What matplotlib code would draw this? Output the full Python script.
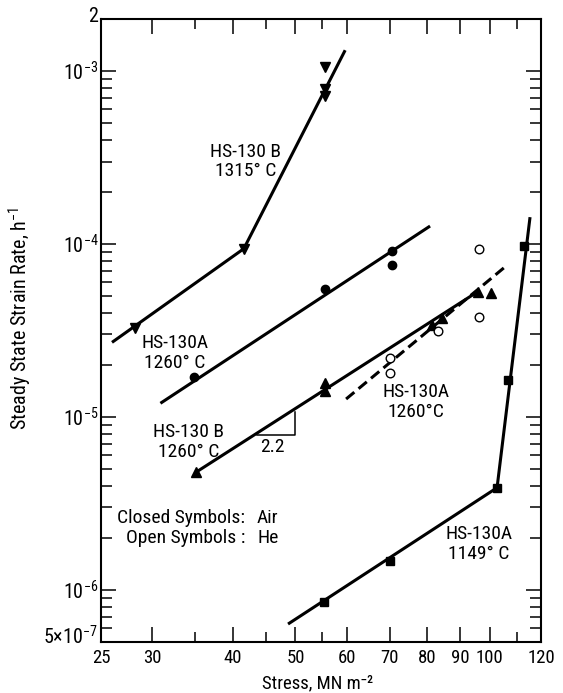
import matplotlib
matplotlib.use('Agg')
import matplotlib.pyplot as plt
from matplotlib import font_manager
from matplotlib.transforms import ScaledTranslation
from matplotlib.ticker import FixedLocator, FixedFormatter, NullFormatter

# ---------------- data ----------------
# HS-130 B, 1315 C (closed inverted triangles)
b1315_stress = [28.2, 41.6, 55.6, 55.6, 55.6]
b1315_rate = [3.25e-5, 9.4e-5, 1.05e-3, 7.9e-4, 7.2e-4]
b1315_fit_stress = [26.0, 41.6, 59.7]
b1315_fit_rate = [2.7e-5, 9.4e-5, 1.32e-3]

# HS-130A, 1260 C, air (closed circles)
a1260_stress = [34.8, 55.6, 70.5, 70.5]
a1260_rate = [1.70e-5, 5.5e-5, 9.1e-5, 7.6e-5]
a1260_fit_stress = [30.9, 80.8]
a1260_fit_rate = [1.2e-5, 1.27e-4]

# HS-130 B, 1260 C (closed triangles)
b1260_stress = [35.1, 55.6, 55.6, 81.3, 84.3, 95.9, 100.4]
b1260_rate = [4.8e-6, 1.57e-5, 1.42e-5, 3.4e-5, 3.75e-5, 5.3e-5, 5.2e-5]
b1260_fit_stress = [35.1, 96.5]
b1260_fit_rate = [4.8e-6, 5.4e-5]

# HS-130A, 1260 C, helium (open circles, dashed fit)
a1260he_stress = [70.0, 70.0, 83.1, 96.2, 96.2]
a1260he_rate = [2.19e-5, 1.79e-5, 3.14e-5, 9.35e-5, 3.78e-5]
a1260he_fit_stress = [59.9, 105.9]
a1260he_fit_rate = [1.27e-5, 7.45e-5]

# HS-130A, 1149 C (closed squares)
a1149_stress = [55.4, 70.0, 102.6, 106.7, 112.9]
a1149_rate = [8.5e-7, 1.47e-6, 3.9e-6, 1.64e-5, 9.7e-5]
a1149_fit_stress = [48.7, 102.6, 115.4]
a1149_fit_rate = [6.35e-7, 3.9e-6, 1.43e-4]

# slope triangle (slope 2.2)
slope_tri_stress = [43.6, 49.9, 49.9]
slope_tri_rate = [7.86e-6, 7.86e-6, 1.07e-5]

# axis ticks
x_major = [25, 30, 40, 50, 60, 70, 80, 90, 100, 120]
x_major_labels = ['25', '30', '40', '50', '60', '70', '80', '90', '100', '120']
x_minor = [35, 45, 55, 110]
y_major = [5e-7, 1e-6, 1e-5, 1e-4, 1e-3, 2e-3]
y_major_labels = [r'$5{\times}10^{-7}$', r'$10^{-6}$', r'$10^{-5}$', r'$10^{-4}$', r'$10^{-3}$', '2']
y_minor = [k * 10.0 ** e for e in (-7, -6, -5, -4) for k in range(2, 10)
           if 5e-7 < k * 10.0 ** e < 2e-3]

# ---------------- font selection (narrow face if available) ----------------
ttf = font_manager.fontManager.ttflist
names = {f.name for f in ttf}
family, stretch, narrow = 'Liberation Sans', 'normal', False
for cand in ('Liberation Sans Narrow', 'Roboto Condensed', 'Open Sans Condensed',
             'Noto Sans Condensed', 'DejaVu Sans Condensed', 'Arial Narrow'):
    if cand in names:
        family, narrow = cand, True
        break
if not narrow:
    for fam in ('DejaVu Sans', 'Noto Sans', 'Open Sans', 'Roboto', 'Lato', 'Inter'):
        if any(f.name == fam and str(f.stretch) in ('condensed', 'semi-condensed', 'extra-condensed', '75', '87.5')
               and f.weight in ('normal', 400, 'regular') and f.style == 'normal' for f in ttf):
            family, stretch, narrow = fam, 'condensed', True
            break
if family not in names:
    family = 'DejaVu Sans'

plt.rcParams['font.family'] = [family, 'DejaVu Sans']
plt.rcParams['font.stretch'] = stretch
plt.rcParams['mathtext.default'] = 'regular'

scale = 1.0 if narrow else 0.84
fs = 14.0 * scale      # annotations
ytfs = 14.5 * scale    # y tick labels
xtfs = 13.5 * scale    # x tick labels
lfs = 13.5 * scale     # axis labels

# ---------------- figure ----------------
fig = plt.figure(figsize=(5.63, 6.93), dpi=100)
ax = fig.add_axes([101 / 563, 1 - 642 / 693, 440 / 563, 623 / 693])
ax.set_xscale('log')
ax.set_yscale('log')
ax.set_xlim(25, 120)
ax.set_ylim(5e-7, 2e-3)

lw = 2.2
k = 'black'
ax.plot(b1315_fit_stress, b1315_fit_rate, color=k, lw=lw, solid_capstyle='butt')
ax.plot(b1315_stress, b1315_rate, 'v', color=k, ms=6.5, ls='none')

ax.plot(a1260_fit_stress, a1260_fit_rate, color=k, lw=lw, solid_capstyle='butt')
ax.plot(a1260_stress, a1260_rate, 'o', color=k, ms=6.0, ls='none')

ax.plot(b1260_fit_stress, b1260_fit_rate, color=k, lw=lw, solid_capstyle='butt')
ax.plot(b1260_stress, b1260_rate, '^', color=k, ms=6.5, ls='none')

ax.plot(a1260he_fit_stress, a1260he_fit_rate, color=k, lw=lw, ls=(0, (3.5, 1.8)))
ax.plot(a1260he_stress, a1260he_rate, 'o', mfc='white', mec=k, mew=1.0, ms=6.2, ls='none')

ax.plot(a1149_fit_stress, a1149_fit_rate, color=k, lw=lw, solid_capstyle='butt')
ax.plot(a1149_stress, a1149_rate, 's', color=k, ms=6.0, ls='none')

ax.plot(slope_tri_stress, slope_tri_rate, color=k, lw=1.1)

# ---------------- annotations ----------------
ax.text(41.9, 3.0e-4, 'HS-130 B\n1315° C', ha='center', va='center', fontsize=fs, linespacing=1.1)
ax.text(32.5, 2.34e-5, 'HS-130A\n1260° C', ha='center', va='center', fontsize=fs, linespacing=1.1)
ax.text(34.2, 7.16e-6, 'HS-130 B\n1260° C', ha='center', va='center', fontsize=fs, linespacing=1.1)
ax.text(76.8, 1.22e-5, 'HS-130A\n1260°C', ha='center', va='center', fontsize=fs, linespacing=1.1)
ax.text(96.2, 1.84e-6, 'HS-130A\n1149° C', ha='center', va='center', fontsize=fs, linespacing=1.1)
ax.text(46.0, 6.7e-6, '2.2', ha='center', va='center', fontsize=fs)

ax.text(41.8, 2.6e-6, 'Closed Symbols:', ha='right', va='center', fontsize=fs)
ax.text(43.6, 2.6e-6, 'Air', ha='left', va='center', fontsize=fs)
ax.text(41.8, 2.0e-6, 'Open Symbols :', ha='right', va='center', fontsize=fs)
ax.text(43.6, 2.0e-6, 'He', ha='left', va='center', fontsize=fs)

# ---------------- axes styling ----------------
ax.xaxis.set_major_locator(FixedLocator(x_major))
ax.xaxis.set_major_formatter(FixedFormatter(x_major_labels))
ax.xaxis.set_minor_locator(FixedLocator(x_minor))
ax.xaxis.set_minor_formatter(NullFormatter())
ax.yaxis.set_major_locator(FixedLocator(y_major))
ax.yaxis.set_major_formatter(FixedFormatter(y_major_labels))
ax.yaxis.set_minor_locator(FixedLocator(y_minor))
ax.yaxis.set_minor_formatter(NullFormatter())

ax.tick_params(axis='both', which='both', direction='in', top=True, right=True, color=k, width=1.1)
ax.tick_params(axis='x', which='major', length=11, pad=5, labelsize=xtfs)
ax.tick_params(axis='x', which='minor', length=7)
ax.tick_params(axis='y', which='major', length=11, pad=2, labelsize=ytfs)
ax.tick_params(axis='y', which='minor', length=8)
for sp in ax.spines.values():
    sp.set_linewidth(1.5)

# nudge the edge labels (5x10^-7 up a little, "2" slightly above the frame)
yticks = ax.yaxis.get_major_ticks()
lbl_bot = yticks[0].label1
lbl_bot.set_transform(lbl_bot.get_transform() + ScaledTranslation(0, 7 / 100, fig.dpi_scale_trans))
lbl_top = yticks[-1].label1
lbl_top.set_transform(lbl_top.get_transform() + ScaledTranslation(0, 5 / 100, fig.dpi_scale_trans))

ax.set_xlabel('Stress, MN m\u207b\u00b2', fontsize=lfs)
ax.xaxis.label.set_va('bottom')
ax.xaxis.set_label_coords(0.493, (642 - 692) / 623)
ax.set_ylabel(r'Steady State Strain Rate, h$^{-1}$', fontsize=14.5 * scale)
ax.yaxis.set_label_coords(-0.152, 0.52)

fig.savefig('out.png', dpi=100)
